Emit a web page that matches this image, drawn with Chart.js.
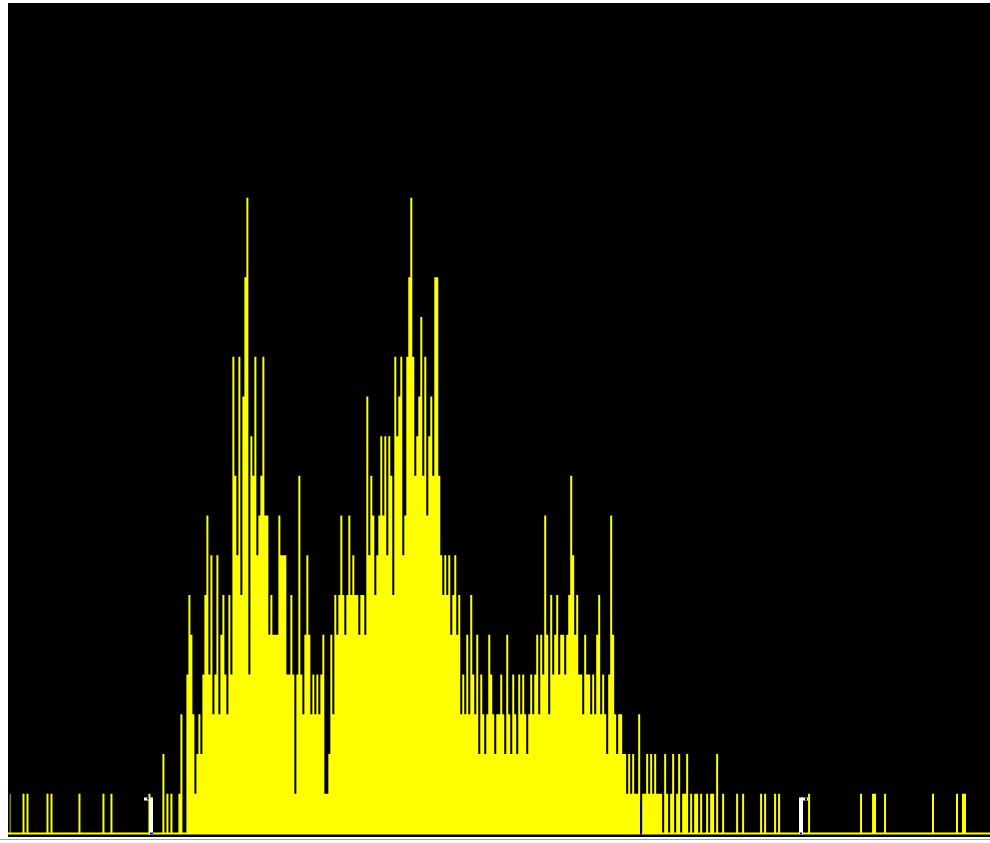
<!DOCTYPE html>
<html>
<head>
<meta charset="utf-8">
<script src="https://cdn.jsdelivr.net/npm/chart.js@4/dist/chart.umd.min.js"></script>
<style>
  html, body { margin: 0; padding: 0; background: #ffffff; }
  #wrap { position: absolute; left: 8px; top: 3px; width: 982px; height: 834px; background: #000000; }
  #rule { position: absolute; left: 0; top: 839px; width: 990px; height: 1px; background: #a0a0a0; }
</style>
</head>
<body>
<div id="wrap"><canvas id="hist"></canvas></div>
<div id="rule"></div>
<script>
// histogram counts, one entry per 2px bin, split by region
var leftTail = [
  1,0,0,0,0,0,0,1,0,1,
  0,0,0,0,0,0,0,0,0,1,
  0,1,0,0,0,0,0,0,0,0,
  0,0,0,0,0,1,0,0,0,0,
  0,0,0,0,0,0,0,1,0,0,
  0,1,0,0,0,0,0,0,0,0,
  0,0,0,0,0,0,0,0,0,0,
  1,0,0,0,0,0,0,2,0,1,
  0,1,0,0,0,1,3,0,0,4,
  6
];
var firstPeak = [
  5,3,1,2,3,2,4,6,8,4,
  7,3,4,7,3,5,6,4,3,6,
  4,12,9,7,12,6,11,14,16,4,
  10,9,12,7,8,9,12,8,8,5,
  6,5,5,5,8,7,7,7,4,4,
  6,4,1,4,9,4,3,5,7,5,
  3,4,3,4,3,4,5,1,1,2
];
var secondPeak = [
  5,3,6,5,6,8,6,5,6,8,
  6,7,6,6,5,6,6,5,11,7,
  9,8,6,7,8,10,8,10,7,10,
  9,6,12,10,11,12,7,8,12,14,
  16,12,9,10,11,13,9,12,8,10,
  11,9,14,14,9,7,6,7,6,7,
  5,6,7,5,6,3
];
var thirdPeak = [
  4,3,5,3,6,4,3,5,2,4,
  3,2,3,5,4,3,2,3,3,4,
  3,2,5,3,2,4,3,2,4,3,
  4,3,2,3,4,3,4,5,3,5,
  4,8,5,3,6,4,5,6,4,5,
  5,4,5,6,9,7,5,6,4,4,
  3,5,4,4,3,4,3,5,6,3,
  4,3,2,4,8,5,3,2,3,3,
  2,2,1,2,1,2,1,1,3
];
var rightTail = [
  0,1,1,2,1,2,1,2,1,1,
  1,0,2,1,0,1,2,0,1,2,
  0,1,1,2,0,1,0,1,1,0,
  1,0,0,1,0,1,1,0,2,0,
  0,1,0,0,0,0,0,0,1,0,
  0,1,0,0,0,0,0,0,0,0,
  1,0,1,0,0,0,0,1,0,1,
  0,0,0,0,0,0,0,0,0,0,
  0,0,0,0,1,0,0,0,0,0,
  0,0,0,0,0,0,0,0,0,0,
  0,0,0,0,0,0,0,0,0,0,
  1,0,0,0,0,0,1,1,0,0,
  0,0,1,0,0,0,0,0,0,0,
  0,0,0,0,0,0,0,0,0,0,
  0,0,0,0,0,0,1,0,0,0,
  0,0,0,0,0,0,0,0,1,0,
  0,1,1,0,0,0,0,0,0,0,
  0,0,0,0,0
];

// range markers, as bin indices
var lowMark = 71;
var midMark = 316;
var highMark = 396;

var counts = [].concat(leftTail, firstPeak, secondPeak, thirdPeak, rightTail);
var binLabels = counts.map(function (v, i) { return i; });

var markerPlugin = {
  id: 'markers',
  afterDatasetsDraw: function (chart) {
    var ctx = chart.ctx;
    var xs = chart.scales.x;
    var ys = chart.scales.y;
    var y0 = ys.getPixelForValue(0);

    // baseline
    ctx.save();
    ctx.fillStyle = '#ffff00';
    ctx.fillRect(0, y0 - 1, chart.width, 2);

    var top = y0 - 36;

    // middle marker
    var xm = Math.round(xs.getPixelForValue(midMark));
    ctx.fillStyle = '#0000c0';
    ctx.fillRect(xm - 1, top + 4, 2, y0 + 1 - (top + 4));

    // low marker, tick to the left
    var xl = Math.round(xs.getPixelForValue(lowMark));
    ctx.fillStyle = '#ffffff';
    ctx.fillRect(xl - 2, top, 4, y0 + 1 - top);
    ctx.fillRect(xl - 7, top, 6, 3);
    ctx.fillStyle = '#0000ff';
    ctx.fillRect(xl - 4, top, 2, 2);
    ctx.fillRect(xl - 1, y0 - 1, 3, 2);

    // high marker, tick to the right
    var xh = Math.round(xs.getPixelForValue(highMark));
    ctx.fillStyle = '#ffffff';
    ctx.fillRect(xh - 2, top, 4, y0 + 1 - top);
    ctx.fillRect(xh, top, 7, 3);
    ctx.fillStyle = '#0000ff';
    ctx.fillRect(xh + 4, top, 2, 3);
    ctx.fillRect(xh - 1, y0 - 1, 2, 2);
    ctx.restore();
  }
};

var ctx = document.getElementById('hist').getContext('2d');
var chart = new Chart(ctx, {
  type: 'line',
  data: {
    labels: binLabels,
    datasets: [{
      data: counts,
      stepped: 'middle',
      fill: 'origin',
      backgroundColor: '#ffff00',
      borderColor: 'rgba(0,0,0,0)',
      borderWidth: 0,
      pointRadius: 0
    }]
  },
  options: {
    responsive: true,
    maintainAspectRatio: false,
    animation: false,
    layout: { padding: { left: 0.5, right: 0, top: 0, bottom: 3.5 } },
    plugins: {
      legend: { display: false },
      tooltip: { enabled: false }
    },
    scales: {
      x: { display: false, offset: true },
      y: { display: false, min: 0, max: 20.9 }
    }
  },
  plugins: [markerPlugin]
});
</script>
</body>
</html>
